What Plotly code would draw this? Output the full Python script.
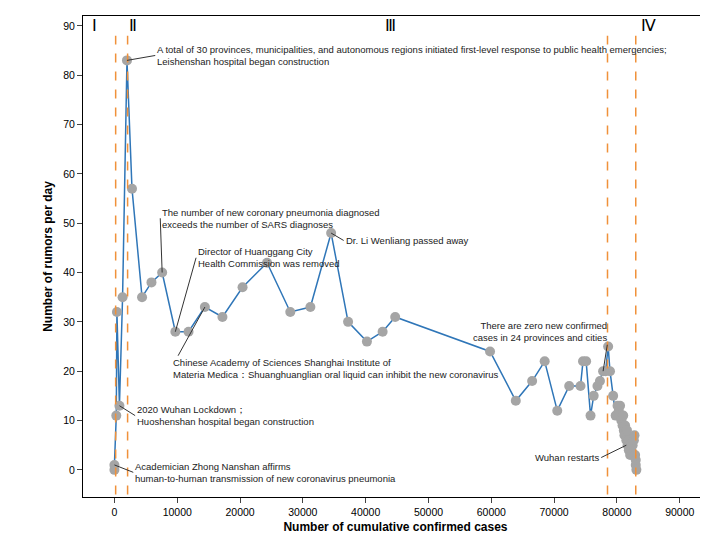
import plotly.graph_objects as go

# cumulative confirmed cases vs rumors per day
cases = [0, 0, 300, 400, 800, 1300, 2000, 2800, 4400, 5900, 7600, 9700, 11800, 14400,
         17200, 20400, 24300, 28000, 31200, 34500, 37200, 40200, 42700, 44700, 59800,
         63900, 66500, 68500, 70500, 72400, 74200, 74600, 75100, 75800, 76300, 76900,
         77300, 77800, 78200, 78600, 78900, 79400, 79800, 80100, 80300, 80500, 80700,
         80900, 81000, 81100, 81200, 81300, 81400, 81500, 81600, 81700, 81800, 81900,
         82000, 82100, 82300, 82500, 82700, 82800, 82900, 83000, 83000, 83100]
rumors = [0, 1, 11, 32, 13, 35, 83, 57, 35, 38, 40, 28, 28, 33,
          31, 37, 42, 32, 33, 48, 30, 26, 28, 31, 24,
          14, 18, 22, 12, 17, 17, 22, 22, 11, 15, 17,
          18, 20, 20, 25, 20, 15, 11, 13, 12, 13, 10,
          9, 11, 8, 7, 9, 7, 6, 8, 5, 6, 4,
          5, 3, 4, 5, 6, 7, 3, 2, 1, 0]

phase_lines = [200, 2100, 78500, 83000]
phase_names = ["Ⅰ", "Ⅱ", "Ⅲ", "Ⅳ"]
phase_label_x = [-3200, 3000, 44000, 85000]

notes = [
    ("A total of 30 provinces, municipalities, and autonomous regions initiated first-level response to public health emergencies;<br>Leishenshan hospital began construction", 2000, 83, 6500, 84, "left"),
    ("The number of new coronary pneumonia diagnosed<br>exceeds the number of SARS diagnoses", 7600, 40, 7300, 51, "left"),
    ("Director of Huanggang City<br>Health Commission was removed", 9700, 28, 13000, 43, "left"),
    ("Dr. Li Wenliang passed away", 34500, 48, 36500, 46.5, "left"),
    ("Chinese Academy of Sciences Shanghai Institute of<br>Materia Medica：Shuanghuanglian oral liquid can inhibit the new coronavirus", 14400, 33, 9000, 20.5, "left"),
    ("2020 Wuhan Lockdown；<br>Huoshenshan hospital began construction", 800, 13, 3300, 11, "left"),
    ("Academician Zhong Nanshan affirms<br>human-to-human transmission of new coronavirus pneumonia", 0, 1, 3000, -0.5, "left"),
    ("There are zero new confirmed<br>cases in 24 provinces and cities", 77800, 20, 78800, 28, "right"),
    ("Wuhan restarts", 81500, 5, 77500, 2.5, "right"),
]

fig = go.Figure()

for x in phase_lines:
    fig.add_shape(type="line", x0=x, x1=x, y0=-5, y1=88, xref="x", yref="y",
                  line=dict(color="#f0913a", width=1.5, dash="dash"))

fig.add_trace(go.Scatter(
    x=cases, y=rumors, mode="lines+markers",
    line=dict(color="#2f76b8", width=1.5),
    marker=dict(color="#a5a5a5", size=10),
))

for name, x in zip(phase_names, phase_label_x):
    fig.add_annotation(x=x, y=90, text=name, showarrow=False, yanchor="middle",
                       font=dict(family="Liberation Serif", size=16, color="black"))

for text, x, y, tx, ty, side in notes:
    fig.add_annotation(x=x, y=y, ax=tx, ay=ty, axref="x", ayref="y",
                       text=text, showarrow=True, arrowhead=0, arrowwidth=1,
                       arrowcolor="#333", xanchor=side, align=side,
                       font=dict(size=9.5, color="#222"))

fig.update_layout(
    width=708, height=537,
    margin=dict(l=75, r=8, t=8, b=48),
    plot_bgcolor="white", paper_bgcolor="white",
    font=dict(family="Liberation Sans", color="black"),
    showlegend=False,
    xaxis=dict(range=[-5000, 94500], tickvals=list(range(0, 90001, 10000)),
               tickformat="d",
               showline=True, mirror=True, linecolor="black", ticks="outside",
               showgrid=False, zeroline=False, tickfont=dict(size=10.5),
               title=dict(text="<b>Number of cumulative confirmed cases</b>", font=dict(size=12),
                          standoff=6)),
    yaxis=dict(range=[-5.5, 92], tickvals=list(range(0, 91, 10)),
               showline=True, mirror=True, linecolor="black", ticks="outside",
               showgrid=False, zeroline=False, tickfont=dict(size=10.5),
               title=dict(text="<b>Number of rumors per day</b>", font=dict(size=12),
                          standoff=8)),
)

fig.write_html("out.html")
